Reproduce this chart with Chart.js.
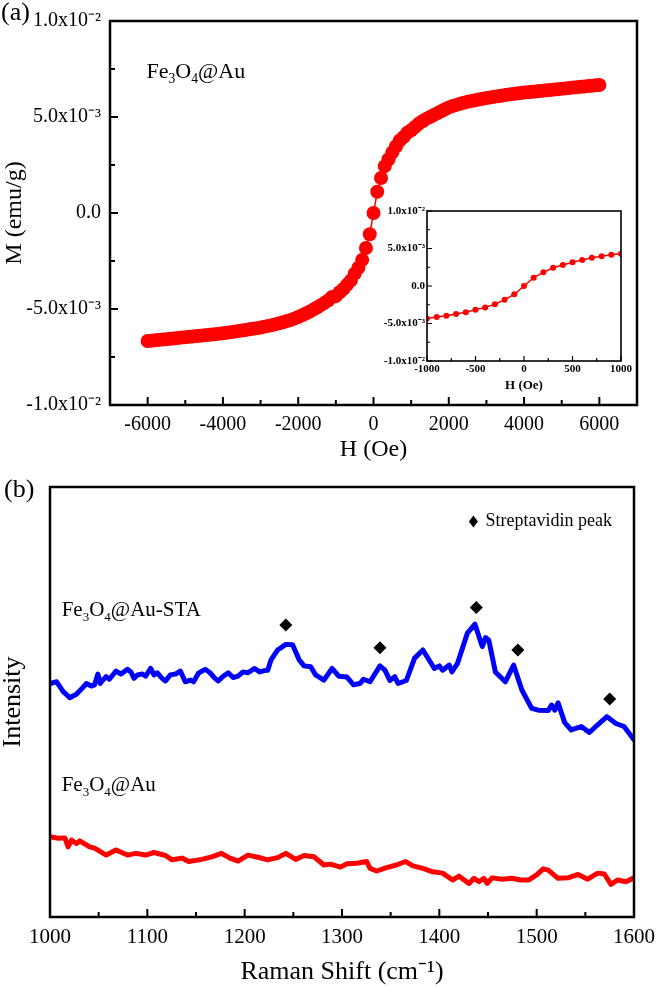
<!DOCTYPE html>
<html>
<head>
<meta charset="utf-8">
<script src="https://cdn.jsdelivr.net/npm/chart.js@4.4.1/dist/chart.umd.min.js"></script>
<style>
  html, body { margin: 0; padding: 0; background: #fff; }
  #wrap { position: relative; width: 663px; height: 988px; overflow: hidden; }
  canvas { position: absolute; }
  #cA { left: 0; top: 0; }
  #cIn { left: 370px; top: 200px; }
  #cB { left: 0; top: 465px; }
</style>
</head>
<body>
<div id="wrap">
  <canvas id="cA" width="663" height="465"></canvas>
  <canvas id="cB" width="663" height="523"></canvas>
  <canvas id="cIn" width="270" height="195"></canvas>
</div>
<script>
// ---------- Panel (a): M-H loop (M in units of 10^-3 emu/g) ----------
const fieldH = [
  -6000,-5900,-5800,-5700,-5600,-5500,-5400,-5300,-5200,-5100,
  -5000,-4900,-4800,-4700,-4600,-4500,-4400,-4300,-4200,-4100,
  -4000,-3900,-3800,-3700,-3600,-3500,-3400,-3300,-3200,-3100,
  -3000,-2900,-2800,-2700,-2600,-2500,-2400,-2300,-2200,-2100,
  -2000,-1900,-1800,-1700,-1600,-1500,-1400,-1300,-1200,-1100,
  -1000,-900,-800,-700,-600,-500,-400,-300,-200,-100,
  0,
  100,200,300,400,500,600,700,800,900,1000,
  1100,1200,1300,1400,1500,1600,1700,1800,1900,2000,
  2100,2200,2300,2400,2500,2600,2700,2800,2900,3000,
  3100,3200,3300,3400,3500,3600,3700,3800,3900,4000,
  4100,4200,4300,4400,4500,4600,4700,4800,4900,5000,
  5100,5200,5300,5400,5500,5600,5700,5800,5900,6000
];
const magM = [
  -6.67,-6.65,-6.63,-6.61,-6.59,-6.57,-6.55,-6.53,-6.51,-6.49,
  -6.47,-6.45,-6.43,-6.41,-6.39,-6.37,-6.35,-6.33,-6.31,-6.29,
  -6.26,-6.24,-6.21,-6.18,-6.15,-6.12,-6.09,-6.06,-6.03,-6.00,
  -5.96,-5.92,-5.88,-5.84,-5.79,-5.74,-5.69,-5.63,-5.57,-5.50,
  -5.42,-5.33,-5.24,-5.14,-5.03,-4.92,-4.80,-4.68,-4.55,-4.37,
  -4.33,-4.13,-3.96,-3.73,-3.51,-3.16,-2.85,-2.44,-1.82,-1.11,
  0.00,
  1.11,1.82,2.44,2.80,3.16,3.48,3.78,3.96,4.18,4.31,
  4.48,4.65,4.78,4.90,5.00,5.10,5.20,5.30,5.40,5.50,
  5.57,5.63,5.69,5.74,5.79,5.83,5.87,5.91,5.95,5.99,
  6.02,6.05,6.08,6.11,6.14,6.17,6.20,6.22,6.25,6.27,
  6.29,6.31,6.33,6.35,6.37,6.39,6.41,6.43,6.45,6.47,
  6.49,6.51,6.53,6.55,6.57,6.59,6.61,6.63,6.65,6.67
];
const xTicksA = [-6000, -4000, -2000, 0, 2000, 4000, 6000];
const xMinorA = [-5000, -3000, -1000, 1000, 3000, 5000];
const yTicksA = [-10, -5, 0, 5, 10];
const yMinorA = [-7.5, -2.5, 2.5, 7.5];
const yTickLabelsA = ['-1.0x10\u207B\u00B2', '-5.0x10\u207B\u00B3', '0.0', '5.0x10\u207B\u00B3', '1.0x10\u207B\u00B2'];

// inset
const xTicksIn = [-1000, -500, 0, 500, 1000];
const xMinorIn = [-750, -250, 250, 750];

// ---------- Panel (b): Raman spectra ----------
const ramanX_STA = [1000,1006.8,1013.6,1020.3,1027.1,1033.9,1037.3,1042.4,1045.8,1049.2,1051.6,1054.3,1057.7,1061,1067.8,1072.9,1079.6,1083.1,1086.4,1089.8,1094.9,1098.3,1103.4,1106.8,1110.1,1115.2,1118.6,1123.7,1128.8,1133.9,1139,1144.1,1147.5,1152.5,1159.4,1164.4,1169.5,1172.9,1178,1183.1,1188.1,1193.2,1198.3,1203.4,1210.2,1215.3,1220.4,1223.7,1227.1,1233.9,1242.3,1249.2,1256,1261,1267.8,1272.9,1281.4,1289.8,1296.6,1305.1,1311.9,1318.6,1322,1328.8,1339,1344.1,1349.2,1354.2,1357.6,1366.1,1374.6,1383.1,1394.9,1400,1403.4,1410.2,1412.9,1418.7,1428.8,1436.6,1444.1,1447.5,1450.8,1457.6,1467.8,1476.3,1484.8,1495,1501.7,1511.9,1515.3,1518.6,1522,1528.8,1535.6,1545.8,1554.2,1562.7,1572.2,1581.4,1589.8,1600];
const ramanI_STA = [54.3,54.7,52.4,51.0,51.8,53.4,54.3,53.7,54.0,56.5,54.3,55.1,55.9,55.3,57.2,56.5,57.6,57.0,55.5,56.3,56.5,56.0,57.8,56.3,56.8,55.5,54.9,56.3,56.5,57.2,54.7,55.1,54.7,56.7,57.6,56.8,55.5,54.9,56.0,56.8,55.7,56.0,57.0,56.8,57.8,57.0,57.3,57.4,59.8,62.1,63.4,63.3,59.8,58.4,58.2,56.3,55.1,57.8,56.0,55.8,54.0,54.3,55.3,54.7,58.4,57.4,55.0,55.9,54.3,55.0,60.2,62.1,57.8,58.4,57.4,58.6,57.0,59.0,66.0,68.1,62.9,65.0,64.4,57.0,54.7,58.6,52.8,48.5,48.1,48.0,49.3,48.1,49.8,45.2,43.5,44.3,42.9,44.7,46.6,45.0,44.3,41.2];
const ramanX_Au = [1000,1008.4,1015.3,1018.6,1022.1,1027.2,1030.5,1040.7,1045.8,1057.7,1067.8,1079.6,1088.2,1098.3,1106.8,1118.7,1125.4,1135.6,1142.4,1155.9,1166.1,1176.2,1184.8,1193.2,1203.4,1213.6,1223.7,1233.9,1242.3,1252.5,1261.1,1271.2,1281.4,1288.1,1298.3,1305.1,1315.3,1325.4,1328.8,1335.6,1345.8,1355.9,1365.4,1372.9,1383.1,1393.2,1403.4,1413.6,1420.3,1430.5,1435.6,1440.7,1445.8,1449.2,1454.3,1464.4,1474.6,1483.1,1491.5,1500,1506.7,1511.9,1522,1532.2,1542.4,1552.5,1562.7,1569.5,1576.3,1583,1591.6,1600];
const ramanI_Au = [18.7,18.3,18.4,16.3,17.9,17.1,17.7,16.3,16.0,14.4,15.6,14.4,14.8,14.4,15.0,14.3,13.3,13.7,12.9,13.4,14.0,14.8,13.7,13.0,14.4,13.9,13.3,13.8,14.8,13.4,14.3,14.0,12.1,12.3,11.6,12.4,12.5,12.9,11.3,10.7,11.5,12.1,12.9,11.9,11.3,10.5,10.2,8.6,9.5,7.8,9.0,8.2,9.0,7.8,9.1,8.8,9.0,8.6,8.6,9.8,11.2,10.9,9.0,9.1,9.9,8.8,10.2,10.0,7.6,8.6,8.2,9.1];
const peakX = [1242.3, 1339, 1438, 1480.7, 1575];
const peakI = [67.9, 62.6, 72.0, 62.1, 50.7];
const xTicksB = [1000, 1100, 1200, 1300, 1400, 1500, 1600];
const xMinorB = [1050, 1150, 1250, 1350, 1450, 1550];

// ---------- helpers ----------
const SERIF = "'Liberation Serif', 'Times New Roman', serif";
const zip = (xs, ys) => xs.map((x, i) => ({ x: x, y: ys[i] }));

function richText(ctx, x, y, parts, size, weight) {
  let cx = x;
  ctx.textAlign = 'left';
  ctx.textBaseline = 'alphabetic';
  parts.forEach(p => {
    const s = p.sub ? size * 0.62 : size;
    ctx.font = (weight || 'normal') + ' ' + s + 'px ' + SERIF;
    ctx.fillText(p.t, cx, y + (p.sub ? size * 0.22 : 0));
    cx += ctx.measureText(p.t).width;
  });
}

function framePlugin(cfg) {
  return {
    id: 'frame',
    afterDraw(chart) {
      const { ctx, chartArea: a, scales } = chart;
      ctx.save();
      ctx.strokeStyle = '#000';
      ctx.lineCap = 'butt';
      ctx.lineWidth = cfg.tickW;
      ctx.beginPath();
      (cfg.xMajor || []).forEach(v => { const x = scales.x.getPixelForValue(v); ctx.moveTo(x, a.bottom); ctx.lineTo(x, a.bottom - cfg.major); });
      (cfg.xMinor || []).forEach(v => { const x = scales.x.getPixelForValue(v); ctx.moveTo(x, a.bottom); ctx.lineTo(x, a.bottom - cfg.minor); });
      (cfg.yMajor || []).forEach(v => { const y = scales.y.getPixelForValue(v); ctx.moveTo(a.left, y); ctx.lineTo(a.left + cfg.major, y); });
      (cfg.yMinor || []).forEach(v => { const y = scales.y.getPixelForValue(v); ctx.moveTo(a.left, y); ctx.lineTo(a.left + cfg.minor, y); });
      ctx.stroke();
      ctx.lineWidth = cfg.lw;
      ctx.lineJoin = 'miter';
      ctx.strokeRect(a.left, a.top, a.right - a.left, a.bottom - a.top);
      ctx.restore();
    }
  };
}

function axis(fontSize, weight, extraTicks) {
  return {
    grid: { display: false, drawTicks: false },
    border: { display: false },
    ticks: Object.assign({ color: '#000', font: { family: SERIF, size: fontSize, weight: weight || 'normal' }, autoSkip: false, maxRotation: 0 }, extraTicks || {})
  };
}
const fromList = (vals, labels) => v => labels[vals.indexOf(v)];
const plain = v => String(v);

// ---------- Chart A ----------
new Chart(document.getElementById('cA'), {
  type: 'scatter',
  data: {
    datasets: [{
      data: zip(fieldH, magM),
      showLine: true,
      borderColor: '#ff0000',
      backgroundColor: '#ff0000',
      borderWidth: 1.5,
      pointRadius: 7,
      pointBorderWidth: 0,
      pointHoverRadius: 7
    }]
  },
  options: {
    responsive: false, devicePixelRatio: 1, animation: false,
    layout: { padding: { top: 20, right: 26, bottom: 0, left: 0 } },
    plugins: { legend: { display: false }, tooltip: { enabled: false } },
    scales: {
      x: Object.assign(axis(20, 'normal', { padding: 8, callback: plain }), {
        type: 'linear', min: -7000, max: 7000,
        afterBuildTicks: s => { s.ticks = xTicksA.map(v => ({ value: v })); },
        afterFit: s => { s.height = 60; },
        title: { display: true, text: 'H (Oe)', color: '#000', font: { family: SERIF, size: 24 }, padding: { top: 0, bottom: 1 } }
      }),
      y: Object.assign(axis(20, 'normal', { padding: 9, callback: fromList(yTicksA, yTickLabelsA) }), {
        type: 'linear', min: -10, max: 10,
        afterBuildTicks: s => { s.ticks = yTicksA.map(v => ({ value: v })); },
        afterFit: s => { s.width = 110; },
        title: { display: true, text: 'M (emu/g)', color: '#000', font: { family: SERIF, size: 24 }, padding: { top: 0, bottom: 0 } }
      })
    }
  },
  plugins: [
    framePlugin({ lw: 2.5, tickW: 2, major: 8, minor: 5, xMajor: xTicksA, xMinor: xMinorA, yMajor: yTicksA, yMinor: yMinorA }),
    {
      id: 'labelsA',
      afterDraw(chart) {
        const { ctx, scales } = chart;
        ctx.save();
        ctx.fillStyle = '#000';
        richText(ctx, 1, 20, [{ t: '(a)' }], 26);
        richText(ctx, scales.x.getPixelForValue(-6030), scales.y.getPixelForValue(7.04),
          [{ t: 'Fe' }, { t: '3', sub: true }, { t: 'O' }, { t: '4', sub: true }, { t: '@Au' }], 22);
        ctx.restore();
      }
    }
  ]
});

// ---------- Inset ----------
new Chart(document.getElementById('cIn'), {
  type: 'scatter',
  data: {
    datasets: [{
      data: zip(fieldH, magM),
      showLine: true,
      borderColor: '#ff0000',
      backgroundColor: '#ff0000',
      borderWidth: 1.5,
      pointRadius: 3,
      pointBorderWidth: 0
    }]
  },
  options: {
    responsive: false, devicePixelRatio: 1, animation: false,
    layout: { padding: { top: 11, right: 19, bottom: 0, left: 0 } },
    plugins: { legend: { display: false }, tooltip: { enabled: false } },
    scales: {
      x: Object.assign(axis(11, 'bold', { padding: 2, callback: plain }), {
        type: 'linear', min: -1000, max: 1000,
        afterBuildTicks: s => { s.ticks = xTicksIn.map(v => ({ value: v })); },
        afterFit: s => { s.height = 34; },
        title: { display: true, text: 'H (Oe)', color: '#000', font: { family: SERIF, size: 13, weight: 'bold' }, padding: { top: 0, bottom: 2 } }
      }),
      y: Object.assign(axis(11, 'bold', { padding: 2, callback: fromList(yTicksA, yTickLabelsA) }), {
        type: 'linear', min: -10, max: 10,
        afterBuildTicks: s => { s.ticks = yTicksA.map(v => ({ value: v })); },
        afterFit: s => { s.width = 57; }
      })
    }
  },
  plugins: [framePlugin({ lw: 1.6, tickW: 1.2, major: 5, minor: 3, xMajor: xTicksIn, xMinor: xMinorIn, yMajor: yTicksA, yMinor: yMinorA })]
});

// ---------- Chart B ----------
new Chart(document.getElementById('cB'), {
  type: 'scatter',
  data: {
    datasets: [
      { data: zip(ramanX_STA, ramanI_STA), showLine: true, borderColor: '#0000ff', borderWidth: 5, pointRadius: 0, borderJoinStyle: 'round', borderCapStyle: 'round' },
      { data: zip(ramanX_Au, ramanI_Au), showLine: true, borderColor: '#ff0000', borderWidth: 5, pointRadius: 0, borderJoinStyle: 'round', borderCapStyle: 'round' },
      { data: zip(peakX, peakI), showLine: false, pointStyle: 'rectRot', pointRadius: 6.5, backgroundColor: '#000', borderColor: '#000', pointBorderWidth: 0 }
    ]
  },
  options: {
    responsive: false, devicePixelRatio: 1, animation: false,
    layout: { padding: { top: 22, right: 23, bottom: 0, left: 0 } },
    plugins: { legend: { display: false }, tooltip: { enabled: false } },
    scales: {
      x: Object.assign(axis(21, 'normal', { padding: 8, callback: plain }), {
        type: 'linear', min: 1000, max: 1600,
        afterBuildTicks: s => { s.ticks = xTicksB.map(v => ({ value: v })); },
        afterFit: s => { s.height = 71; },
        title: { display: true, text: 'Raman Shift (cm\u207B\u00B9)', color: '#000', font: { family: SERIF, size: 26 }, padding: { top: 0, bottom: 0 } }
      }),
      y: Object.assign(axis(21, 'normal', { display: false }), {
        type: 'linear', min: 0, max: 100,
        afterFit: s => { s.width = 50; },
        title: { display: true, text: 'Intensity', color: '#000', font: { family: SERIF, size: 26 }, padding: { top: -2, bottom: 0 } }
      })
    }
  },
  plugins: [
    framePlugin({ lw: 2.5, tickW: 2, major: 8, minor: 5, xMajor: xTicksB, xMinor: xMinorB }),
    {
      id: 'labelsB',
      afterDraw(chart) {
        const { ctx, scales } = chart;
        const sx = scales.x, sy = scales.y;
        ctx.save();
        ctx.fillStyle = '#000';
        richText(ctx, 4, 32, [{ t: '(b)' }], 26);
        richText(ctx, sx.getPixelForValue(1012), sy.getPixelForValue(70.0),
          [{ t: 'Fe' }, { t: '3', sub: true }, { t: 'O' }, { t: '4', sub: true }, { t: '@Au-STA' }], 21);
        richText(ctx, sx.getPixelForValue(1012), sy.getPixelForValue(29.3),
          [{ t: 'Fe' }, { t: '3', sub: true }, { t: 'O' }, { t: '4', sub: true }, { t: '@Au' }], 21);
        // legend: diamond + text
        const lx = sx.getPixelForValue(1435), ly = sy.getPixelForValue(92.0);
        ctx.beginPath();
        ctx.moveTo(lx, ly - 6); ctx.lineTo(lx + 4.5, ly); ctx.lineTo(lx, ly + 6); ctx.lineTo(lx - 4.5, ly); ctx.closePath();
        ctx.fill();
        ctx.font = '18px ' + SERIF;
        ctx.textBaseline = 'middle';
        ctx.textAlign = 'left';
        ctx.fillText('Streptavidin peak', sx.getPixelForValue(1447.5), ly);
        ctx.restore();
      }
    }
  ]
});
</script>
</body>
</html>
